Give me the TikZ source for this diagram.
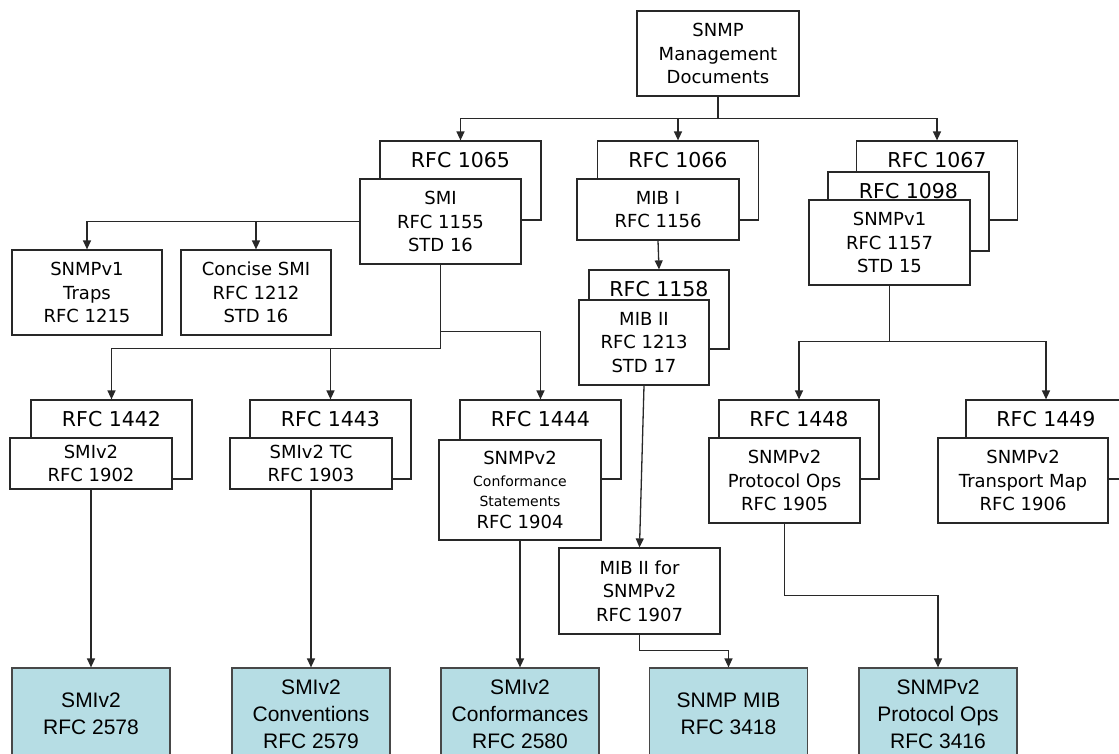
\documentclass[tikz,border=0pt]{standalone}
\usepackage{fontspec}
\setmainfont{DejaVu Sans}
\newfontfamily\newsfont{Liberation Sans}
\usetikzlibrary{arrows.meta}
\definecolor{edgegray}{RGB}{40,40,40}
\definecolor{newfill}{RGB}{182,221,228}

\begin{document}
\begin{tikzpicture}[x=1pt, y=-1pt,
    docbox/.style={draw=edgegray, line width=1.2pt, fill=white, align=center,
      inner sep=0pt, font=\fontsize{18}{23.5}\selectfont},
    rfcback/.style={docbox, minimum width=161pt, minimum height=79pt,
      label={[anchor=base, yshift=-27pt, inner sep=0pt,
        font=\fontsize{20.5}{24}\selectfont]north:#1}},
    docfront/.style={docbox, minimum width=161pt, minimum height=85pt},
    newdoc/.style={draw=edgegray!85, line width=1.2pt, fill=newfill, align=center,
      inner sep=0pt, minimum width=158pt, minimum height=92pt,
      font=\newsfont\fontsize{21}{27}\selectfont},
    link/.style={draw=edgegray, line width=1.3pt, -{Triangle[width=8pt,length=9pt]}}]
  \useasboundingbox (0,0) rectangle (1119,754);

  \node[docbox, minimum width=162pt, minimum height=85pt] (docs) at (718,53.5)
    {SNMP\\Management\\Documents};

  \node[rfcback=RFC 1065] (r1065) at (460.5,180.5) {};
  \node[rfcback=RFC 1066] (r1066) at (678,180.5) {};
  \node[rfcback=RFC 1067] (r1067) at (937,180.5) {};
  \node[rfcback=RFC 1098] (r1098) at (908.5,211.5) {};
  \node[rfcback=RFC 1158, minimum width=140pt] (r1158) at (659,309.5) {};
  \node[rfcback=RFC 1442] (r1442) at (111.5,439.5) {};
  \node[rfcback=RFC 1443] (r1443) at (330.5,439.5) {};
  \node[rfcback=RFC 1444] (r1444) at (540.5,439.5) {};
  \node[rfcback=RFC 1448, minimum width=160pt] (r1448) at (799,439.5) {};
  \node[rfcback=RFC 1449, minimum width=160pt] (r1449) at (1046,439.5) {};

  \node[docfront] (smi) at (440.5,221.5) {SMI\\RFC 1155\\STD 16};
  \node[docfront, minimum width=162pt, minimum height=61pt] (mib1) at (658,209.5)
    {MIB I\\RFC 1156};
  \node[docfront] (snmpv1) at (889.5,242.5) {SNMPv1\\RFC 1157\\STD 15};
  \node[docfront, minimum width=150pt] (traps) at (87,292.5) {SNMPv1\\Traps\\RFC 1215};
  \node[docfront, minimum width=150pt] (concise) at (256,292.5)
    {Concise SMI\\RFC 1212\\STD 16};
  \node[docfront, minimum width=130pt] (mib2) at (644,342.5) {MIB II\\RFC 1213\\STD 17};
  \node[docfront, minimum width=162pt, minimum height=51pt] (s1902) at (91,463.5)
    {SMIv2\\RFC 1902};
  \node[docfront, minimum width=162pt, minimum height=51pt] (s1903) at (311,463.5)
    {SMIv2 TC\\RFC 1903};
  \node[docfront, minimum width=162pt, minimum height=100pt] (s1904) at (520,490)
    {SNMPv2\\[-2pt]\fontsize{14}{14}\selectfont Conformance\\[-3pt]
     \fontsize{14}{14}\selectfont Statements\\[-2pt]RFC 1904};
  \node[docfront, minimum width=151pt] (s1905) at (784.5,480.5)
    {SNMPv2\\Protocol Ops\\RFC 1905};
  \node[docfront, minimum width=170pt] (s1906) at (1023,480.5)
    {SNMPv2\\Transport Map\\RFC 1906};
  \node[docfront, minimum height=86pt] (s1907) at (639.5,591)
    {MIB II for\\SNMPv2\\RFC 1907};

  \node[newdoc] (n2578) at (91,714) {SMIv2\\RFC 2578};
  \node[newdoc] (n2579) at (311,714) {SMIv2\\Conventions\\RFC 2579};
  \node[newdoc] (n2580) at (520,714) {SMIv2\\Conformances\\RFC 2580};
  \node[newdoc] (n3418) at (728.5,714) {SNMP MIB\\RFC 3418};
  \node[newdoc] (n3416) at (938,714) {SNMPv2\\Protocol Ops\\RFC 3416};

  \draw[link] (docs.south) -- ++(0,22) -| (r1065.north);
  \draw[link] (docs.south) -- ++(0,22) -| (r1066.north);
  \draw[link] (docs.south) -- ++(0,22) -| (r1067.north);
  \draw[link] (smi.west) -| (traps.north);
  \draw[link] (smi.west) -| (concise.north);
  \draw[link] (mib1.south) -- (r1158.north);
  \draw[link] (smi.south) -- ++(0,84) -| (r1442.north);
  \draw[link] (smi.south) -- ++(0,84) -| (r1443.north);
  \draw[link] (smi.south) -- ++(0,67) -| (r1444.north);
  \draw[link] (snmpv1.south) -- ++(0,56) -| (r1448.north);
  \draw[link] (snmpv1.south) -- ++(0,56) -| (r1449.north);
  \draw[link] (mib2.south) -- (s1907.north);
  \draw[link] (s1902) -- (n2578);
  \draw[link] (s1903) -- (n2579);
  \draw[link] (s1904) -- (n2580);
  \draw[link] (s1907.south) -- ++(0,16) -| (n3418.north);
  \draw[link] (s1905.south) -- ++(0,72) -| (n3416.north);
\end{tikzpicture}
\end{document}
